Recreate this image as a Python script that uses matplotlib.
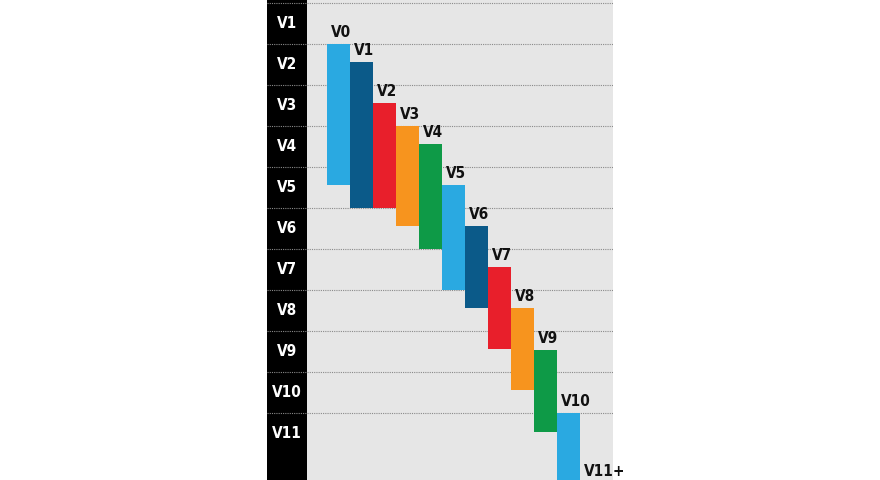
import matplotlib
matplotlib.use("Agg")
import matplotlib.pyplot as plt
from matplotlib.patches import Rectangle

# ---- data ----
row_labels = ["V1", "V2", "V3", "V4", "V5", "V6", "V7", "V8", "V9", "V10", "V11"]
bar_labels = ["V0", "V1", "V2", "V3", "V4", "V5", "V6", "V7", "V8", "V9", "V10", "V11+"]
bar_top = [1.0, 1.45, 2.45, 3.0, 3.45, 4.45, 5.45, 6.45, 7.45, 8.47, 10.0, 11.7]
bar_bottom = [4.45, 5.0, 5.0, 5.45, 6.0, 7.0, 7.45, 8.45, 9.45, 10.47, 12.5, 13.0]
bar_colors = ["#2aa9e1", "#0b5a89", "#e81f2b", "#f7941e", "#0e9a47",
              "#2aa9e1", "#0b5a89", "#e81f2b", "#f7941e", "#0e9a47",
              "#2aa9e1", "#0b5a89"]

FONT = dict(family=["DejaVu Sans"], fontstretch="condensed", fontweight="bold")

fig = plt.figure(figsize=(8.8, 4.8), dpi=100)
fig.patch.set_facecolor("white")
ax = fig.add_axes([267 / 880, 0, 346 / 880, 1])
ax.set_facecolor("#e6e6e6")
for s in ax.spines.values():
    s.set_visible(False)
ax.set_xticks([])
ax.set_yticks([])

xmin, xmax = (267 - 327) / 23, (613 - 327) / 23
ax.set_xlim(xmin, xmax)
ax.set_ylim(477 / 41, -3 / 41)

col_right = (307 - 327) / 23
ax.add_patch(Rectangle((xmin, -1), col_right - xmin, 20, facecolor="black",
                       edgecolor="none", zorder=1))

# grid lines at the top of each row
for k in range(len(row_labels)):
    ax.plot([xmin, xmax], [k, k], color="#8a8a8a", lw=0.8, ls=(0, (1, 1)),
            zorder=2)
    ax.text((xmin + col_right) / 2, k + 0.5, row_labels[k], color="white",
            ha="center", va="center", fontsize=11, zorder=3, **FONT)

# bars
xs = list(range(len(bar_labels)))
heights = [b - t for t, b in zip(bar_top, bar_bottom)]
ax.bar(xs, heights, bottom=bar_top, width=1.0, align="edge",
       color=bar_colors, edgecolor="none", zorder=4)
for x, t, lab in zip(xs, bar_top, bar_labels):
    ax.annotate(lab, (x + 0.17, t), xytext=(0, 3), textcoords="offset points",
                ha="left", va="bottom", fontsize=11, color="#111111",
                zorder=5, annotation_clip=False, **FONT)

fig.savefig("out.png", dpi=100)
